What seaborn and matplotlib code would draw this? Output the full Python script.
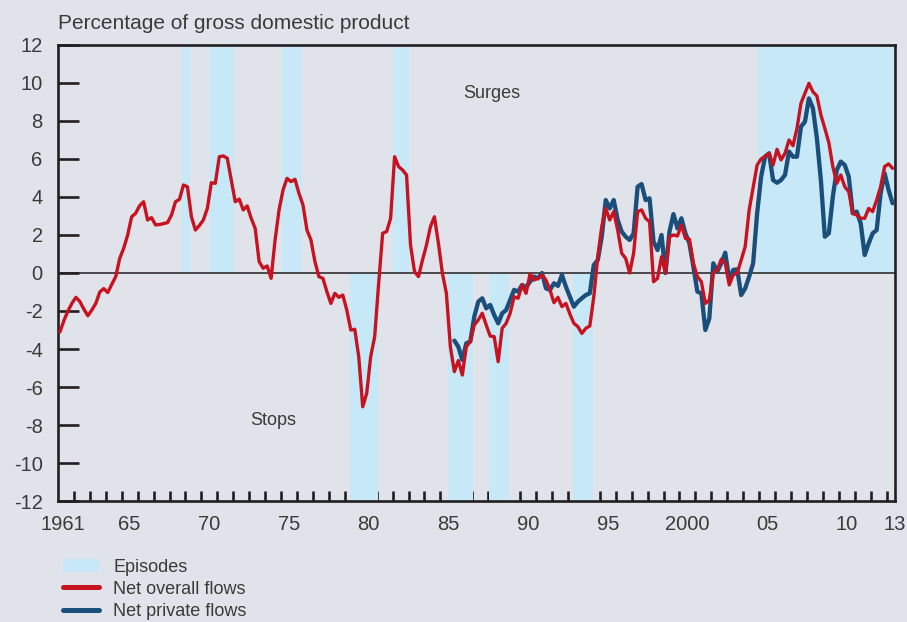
import numpy as np
import seaborn as sns
import matplotlib.pyplot as plt
from matplotlib.patches import Patch
from matplotlib.lines import Line2D

# quarterly data, % of GDP
# net overall flows, 1961Q1 - 2013Q2
overall = [
    -3.1, -2.5, -2.0, -1.6,     # 1961
    -1.28, -1.5, -1.9, -2.25,   # 1962
    -1.95, -1.6, -1.0, -0.82,   # 1963
    -1.03, -0.6, -0.19, 0.77,   # 1964
    1.3, 2.0, 2.96, 3.14,       # 1965
    3.54, 3.75, 2.79, 2.91,     # 1966
    2.53, 2.55, 2.6, 2.65,      # 1967
    3.05, 3.75, 3.88, 4.63,     # 1968
    4.54, 2.96, 2.26, 2.5,      # 1969
    2.79, 3.4, 4.75, 4.72,      # 1970
    6.12, 6.16, 6.04, 4.89,     # 1971
    3.75, 3.89, 3.32, 3.53,     # 1972
    2.88, 2.35, 0.6, 0.25,      # 1973
    0.37, -0.28, 1.74, 3.32,    # 1974
    4.37, 4.98, 4.81, 4.93,     # 1975
    4.19, 3.58, 2.26, 1.74,     # 1976
    0.6, -0.19, -0.28, -0.98,   # 1977
    -1.6, -1.07, -1.28, -1.16,  # 1978
    -1.95, -3.0, -2.96, -4.4,   # 1979
    -7.04, -6.33, -4.4, -3.35,  # 1980
    -0.54, 2.09, 2.18, 2.88,    # 1981
    6.12, 5.6, 5.42, 5.16,      # 1982
    1.47, 0.07, -0.19, 0.68,    # 1983
    1.47, 2.44, 2.96, 1.56,     # 1984
    -0.02, -1.07, -3.88, -5.19, # 1985
    -4.61, -5.37, -3.88, -3.61, # 1986
    -2.74, -2.47, -2.12, -2.74, # 1987
    -3.32, -3.35, -4.67, -2.91, # 1988
    -2.65, -2.12, -1.25, -1.33, # 1989
    -0.63, -1.07, -0.05, -0.37, # 1990
    -0.28, -0.1, -0.37, -0.89,  # 1991
    -1.56, -1.28, -1.77, -1.6,  # 1992
    -2.16, -2.65, -2.82, -3.18, # 1993
    -2.91, -2.79, -1.25, 0.86,  # 1994
    2.44, 3.4, 2.79, 3.23,      # 1995
    2.26, 1.04, 0.77, 0.0,      # 1996
    1.04, 3.23, 3.32, 2.88,     # 1997
    2.7, -0.46, -0.28, 0.86,    # 1998
    0.0, 1.91, 2.0, 1.95,       # 1999
    2.53, 1.82, 1.78, 0.51,     # 2000
    -0.19, -0.46, -1.6, -1.42,  # 2001
    0.0, 0.16, 0.72, 0.51,      # 2002
    -0.63, -0.1, 0.0, 0.68,     # 2003
    1.39, 3.32, 4.5, 5.68,      # 2004
    6.0, 6.15, 6.3, 5.68,       # 2005
    6.51, 5.95, 6.3, 7.0,       # 2006
    6.7, 7.61, 8.93, 9.46,      # 2007
    9.98, 9.54, 9.32, 8.32,     # 2008
    7.61, 6.86, 5.6, 4.72,      # 2009
    5.16, 4.54, 4.28, 3.14,     # 2010
    3.05, 2.88, 2.88, 3.4,      # 2011
    3.23, 3.84, 4.54, 5.6,      # 2012
    5.74, 5.51,                 # 2013
]

# net private flows, 1985Q4 - 2013Q2
private = [
    -3.56,                      # 1985
    -3.88, -4.58, -3.7, -3.61,  # 1986
    -2.3, -1.51, -1.33, -1.86,  # 1987
    -1.68, -2.21, -2.65, -2.12, # 1988
    -1.95, -1.42, -0.89, -0.98, # 1989
    -0.63, -0.75, -0.46, -0.19, # 1990
    -0.28, 0.0, -0.81, -0.89,   # 1991
    -0.54, -0.68, -0.1, -0.72,  # 1992
    -1.25, -1.77, -1.51, -1.33, # 1993
    -1.16, -1.07, 0.42, 0.68,   # 1994
    1.91, 3.84, 3.4, 3.84,      # 1995
    2.79, 2.18, 1.91, 1.74,     # 1996
    2.09, 4.54, 4.68, 3.84,     # 1997
    3.93, 1.65, 1.21, 2.0,      # 1998
    0.0, 2.18, 3.1, 2.35,       # 1999
    2.88, 2.09, 1.56, 0.33,     # 2000
    -0.98, -1.07, -3.0, -2.39,  # 2001
    0.51, 0.07, 0.51, 1.07,     # 2002
    -0.37, 0.16, 0.19, -1.16,   # 2003
    -0.81, -0.19, 0.51, 3.14,   # 2004
    5.07, 6.12, 6.3, 4.89,      # 2005
    4.75, 4.89, 5.16, 6.39,     # 2006
    6.12, 6.12, 7.7, 7.96,      # 2007
    9.19, 8.67, 7.09, 4.89,     # 2008
    1.91, 2.09, 4.02, 5.42,     # 2009
    5.86, 5.68, 5.07, 3.14,     # 2010
    3.23, 2.61, 0.95, 1.56,     # 2011
    2.09, 2.26, 4.19, 5.25,     # 2012
    4.37, 3.67,                 # 2013
]

# episodes (start, end in years)
surge_start = [1968.8, 1970.55, 1975.05, 1982.05, 2004.95]
surge_end = [1969.3, 1972.05, 1976.3, 1983.05, 2013.5]
stop_start = [1979.3, 1985.5, 1988.05, 1993.3]
stop_end = [1981.1, 1987.05, 1989.3, 1994.55]

label_years = [1961, 1965, 1970, 1975, 1980, 1985, 1990, 1995, 2000, 2005, 2010, 2013]
label_text = ['1961', '65', '70', '75', '80', '85', '90', '95', '2000', '05', '10', '13']

bg = '#e0e3ea'
shade = '#c6e8f7'
red = '#c8121f'
blue = '#1b4f7b'
dark = '#231f20'
txt = '#3a3a3a'

sns.set_theme(style='ticks', rc={'axes.facecolor': bg, 'figure.facecolor': bg})
plt.rcParams['font.family'] = ['Liberation Sans', 'DejaVu Sans']
plt.rcParams['axes.unicode_minus'] = False

t_overall = 1961.125 + 0.25 * np.arange(len(overall))
t_private = 1985.875 + 0.25 * np.arange(len(private))

fig = plt.figure(figsize=(9.07, 6.22), dpi=100)
ax = fig.add_axes([0.0639, 0.1945, 0.9224, 0.7332])

for s, e in zip(surge_start, surge_end):
    ax.fill_between([s, e], 0, 12, color=shade, lw=0, zorder=1)
for s, e in zip(stop_start, stop_end):
    ax.fill_between([s, e], -12, 0, color=shade, lw=0, zorder=1)

ax.axhline(0, color=dark, lw=1.1, zorder=2)

sns.lineplot(x=t_private, y=private, ax=ax, color=blue, lw=3.1, zorder=3)
sns.lineplot(x=t_overall, y=overall, ax=ax, color=red, lw=2.4, zorder=4)

ax.set_xlim(1961, 2013.5)
ax.set_ylim(-12, 12)

for sp in ax.spines.values():
    sp.set_visible(True)
    sp.set_color(dark)
    sp.set_linewidth(1.9)

ax.set_yticks(range(-12, 13, 2))
ax.tick_params(axis='y', direction='in', length=15, width=1.9, color=dark,
               labelsize=14.5, labelcolor=txt, pad=11)
ax.set_xticks(range(1962, 2014))
ax.set_xticklabels([])
ax.tick_params(axis='x', which='major', direction='in', length=7.5, width=1.9, color=dark)
ax.set_xticks([y + 0.3 if y == 1961 else y + 0.5 for y in label_years], minor=True)
ax.set_xticklabels(label_text, minor=True)
ax.tick_params(axis='x', which='minor', length=0, labelsize=14.5, labelcolor=txt, pad=10)
ax.set_xlabel('')
ax.set_ylabel('')

fig.text(58 / 907, 1 - 29 / 622, 'Percentage of gross domestic product',
         fontsize=15, color=txt, va='baseline', ha='left')
ax.text(1988.2, 9.45, 'Surges', fontsize=13, color=txt, ha='center', va='center')
ax.text(1974.5, -7.75, 'Stops', fontsize=13, color=txt, ha='center', va='center')

handles = [Patch(facecolor=shade, edgecolor='none'),
           Line2D([], [], color=red, lw=3.6),
           Line2D([], [], color=blue, lw=3.6)]
fig.legend(handles, ['Episodes', 'Net overall flows', 'Net private flows'],
           loc='upper left', bbox_to_anchor=(0.069, 0.102), frameon=False,
           fontsize=13, labelcolor=txt, handlelength=2.0, handleheight=0.8,
           handletextpad=0.8, labelspacing=0.28, borderpad=0, borderaxespad=0)

plt.savefig('out.png', dpi=100, facecolor=bg)
